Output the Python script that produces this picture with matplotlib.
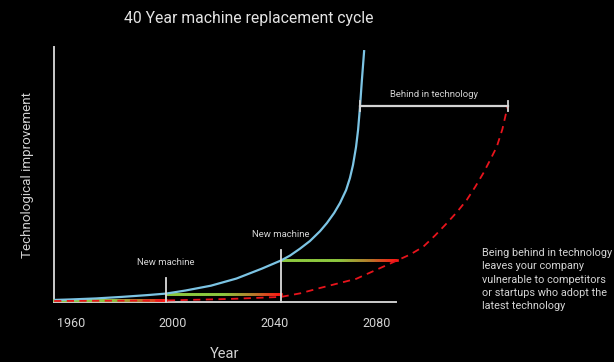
import numpy as np
import matplotlib
matplotlib.use("Agg")
import matplotlib.pyplot as plt
from matplotlib.collections import LineCollection
from matplotlib.colors import LinearSegmentedColormap

plt.rcParams['font.family'] = ['Roboto', 'DejaVu Sans']

# Current technology curve
blue_years = [1953.5, 1960, 1970, 1980, 1990, 1997.4, 2005, 2015, 2025, 2035,
              2042.5, 2046.0, 2049.9, 2053.8, 2057.8, 2060.5, 2063.3, 2065.6,
              2068.0, 2069.5, 2070.7, 2071.9, 2072.7, 2073.45, 2074.2, 2075.1]
blue_vals = [0.8, 1.0, 1.4, 2.0, 2.7, 3.3, 4.5, 6.4, 9.2, 13.1,
             16.3, 18.2, 20.9, 23.9, 27.8, 31.0, 34.9, 38.8,
             43.9, 48.6, 53.7, 60.8, 67.5, 76.5, 87.1, 98.8]

# Technology of a company that keeps its machines for 40+ years
red_years = [1953.5, 1997.4, 2022.5, 2042.5, 2050, 2057.8, 2072, 2088.0,
             2093.1, 2098.3, 2102.9, 2107.5, 2111.5, 2115.3, 2118.6,
             2121.8, 2124.4, 2127.1, 2129.3, 2131.4]
red_vals = [0.4, 0.6, 1.2, 2.0, 3.4, 5.5, 9.1, 16.3,
            18.6, 21.7, 26.1, 30.9, 35.3, 40.0, 45.1,
            50.5, 55.5, 60.9, 67.8, 77.0]

# Machine purchases: year bought, level of technology, years in service until
machine_years = [1953.5, 1997.4, 2042.5]
machine_levels = [0.6, 3.3, 16.3]
machine_until = [1997.4, 2042.5, 2088.0]
machine_labels = ["", "New machine", "New machine"]
marker_tops = [0, 9.4, 20.4]

tick_years = [1960, 2000, 2040, 2080]
tick_labels = ["1960", "2000", "2040", "2080"]

behind_start, behind_end, behind_level = 2073.45, 2131.4, 76.8

W, H = 614, 362
fig = plt.figure(figsize=(W / 100, H / 100), dpi=100, facecolor="black")
ax = fig.add_axes([53.5 / W, (H - 302) / H, (396 - 53.5) / W, (302 - 47) / H])
ax.set_facecolor("black")
ax.set_xlim(1953.25, 2087.57)
ax.set_ylim(0, 100)

axis_col = "#cccccc"
text_col = "#d4d4d4"
for side in ("top", "right"):
    ax.spines[side].set_visible(False)
for side in ("left", "bottom"):
    ax.spines[side].set_color(axis_col)
    ax.spines[side].set_linewidth(1.4)

ax.set_xticks(tick_years, tick_labels)
ax.set_yticks([])
ax.tick_params(axis="x", length=0, pad=11, labelsize=9, labelcolor=text_col)
ax.set_xlabel("Year", color=text_col, fontsize=10.5, labelpad=12)
ax.set_ylabel("Technological improvement", color=text_col, fontsize=9.6, labelpad=14)

grad = LinearSegmentedColormap.from_list(
    "age", [(0.0, "#8dc83f"), (0.5, "#8dc83f"), (0.78, "#b8782a"), (1.0, "#ff1a14")])

# Service life of each machine, fading from green to red as it ages
for x0, x1, lvl in zip(machine_years, machine_until, machine_levels):
    xs = np.linspace(x0, x1, 60)
    pts = np.column_stack([xs, np.full_like(xs, lvl)])
    segs = np.stack([pts[:-1], pts[1:]], axis=1)
    lc = LineCollection(segs, cmap=grad, linewidths=1.9, clip_on=False, zorder=3,
                        capstyle="projecting")
    lc.set_array(np.linspace(0, 1, len(segs)))
    ax.add_collection(lc)

ax.plot(blue_years, blue_vals, color="#7cc4e4", lw=1.6, clip_on=False, zorder=4,
        solid_capstyle="butt", solid_joinstyle="round")
ax.plot(red_years, red_vals, color="#e8141c", lw=1.3, ls=(0, (4, 3)),
        clip_on=False, zorder=5)

# Purchase markers
for yr, top, lab in zip(machine_years[1:], marker_tops[1:], machine_labels[1:]):
    ax.plot([yr, yr], [0, top], color="#dcdcdc", lw=1.3, zorder=6, clip_on=False)
    ax.text(yr, top + 6.2, lab, color=text_col, fontsize=6.8, ha="center", va="center")

# Gap between current and owned technology
ax.plot([behind_start, behind_end], [behind_level, behind_level], color="#d4d4d4",
        lw=1.6, clip_on=False, zorder=6)
for xe in (behind_start, behind_end):
    ax.plot([xe, xe], [behind_level - 2, behind_level + 2], color="#d4d4d4",
            lw=1.3, clip_on=False, zorder=6)
ax.text((behind_start + behind_end) / 2, behind_level + 4.4, "Behind in technology",
        color=text_col, fontsize=6.8, ha="center", va="center", clip_on=False)

fig.text(248.6 / W, 1 - 19 / H, "40 Year machine replacement cycle", color="#e4e4e4",
         fontsize=11.3, ha="center", va="center")

fig.text(481.5 / W, 1 - 248 / H,
         "Being behind in technology\nleaves your company\nvulnerable to competitors\n"
         "or startups who adopt the\nlatest technology",
         color=text_col, fontsize=7.8, ha="left", va="top", linespacing=1.42)

fig.savefig("out.png", dpi=100, facecolor="black")
